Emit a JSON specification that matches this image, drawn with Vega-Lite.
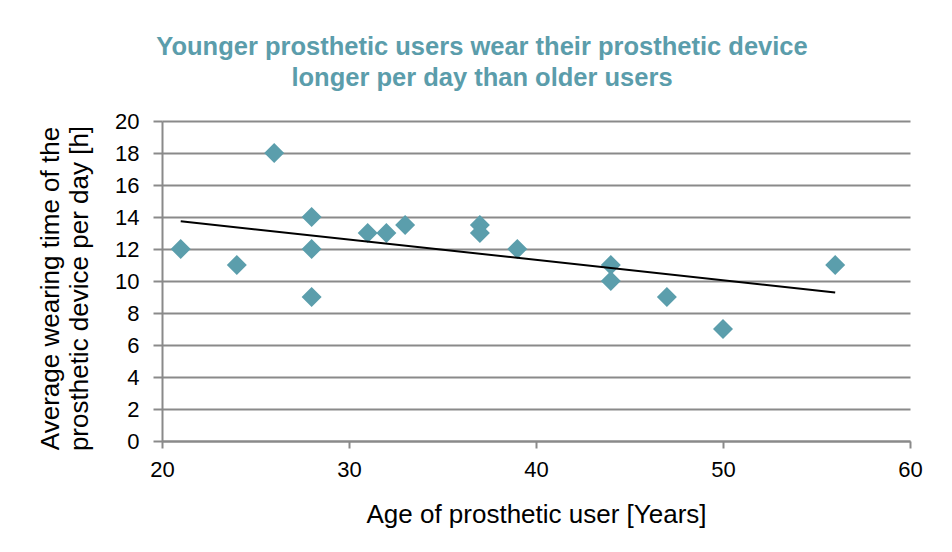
{
  "$schema": "https://vega.github.io/schema/vega-lite/v6.json",
  "width": 748,
  "height": 320,
  "autosize": {"type": "none"},
  "padding": {"left": 162, "top": 121, "right": 42, "bottom": 111},
  "background": "white",
  "title": {
    "text": ["Younger prosthetic users wear their prosthetic device", "longer per day than older users"],
    "font": "Liberation Sans",
    "fontSize": 25.5,
    "fontWeight": "bold",
    "color": "#5b9dab",
    "lineHeight": 31,
    "anchor": "middle",
    "frame": "group",
    "dx": -54,
    "offset": 19
  },
  "data": {
    "values": [
      {"age": 21, "wear": 12},
      {"age": 24, "wear": 11},
      {"age": 26, "wear": 18},
      {"age": 28, "wear": 14},
      {"age": 28, "wear": 12},
      {"age": 28, "wear": 9},
      {"age": 31, "wear": 13},
      {"age": 32, "wear": 13},
      {"age": 33, "wear": 13.5},
      {"age": 37, "wear": 13.5},
      {"age": 37, "wear": 13},
      {"age": 39, "wear": 12},
      {"age": 44, "wear": 11},
      {"age": 44, "wear": 10},
      {"age": 47, "wear": 9},
      {"age": 50, "wear": 7},
      {"age": 56, "wear": 11}
    ]
  },
  "config": {
    "view": {"stroke": null},
    "axis": {
      "labelFont": "Liberation Sans",
      "labelFontSize": 22,
      "labelColor": "#000000",
      "titleFont": "Liberation Sans",
      "titleFontSize": 26,
      "titleFontWeight": "normal",
      "titleColor": "#000000",
      "domainColor": "#8a8a8a",
      "domainWidth": 2,
      "tickColor": "#8a8a8a",
      "tickWidth": 2,
      "gridColor": "#8a8a8a",
      "gridWidth": 2,
      "gridOpacity": 1
    }
  },
  "encoding": {
    "x": {
      "field": "age",
      "type": "quantitative",
      "scale": {"domain": [20, 60], "nice": false, "zero": false},
      "axis": {
        "title": "Age of prosthetic user [Years]",
        "values": [20, 30, 40, 50, 60],
        "grid": false,
        "tickSize": 7,
        "labelPadding": 11,
        "titlePadding": 21,
        "labelFlush": false
      }
    },
    "y": {
      "field": "wear",
      "type": "quantitative",
      "scale": {"domain": [0, 20], "nice": false},
      "axis": {
        "title": ["Average wearing time of the", "prosthetic device per day  [h]"],
        "values": [0, 2, 4, 6, 8, 10, 12, 14, 16, 18, 20],
        "grid": true,
        "tickSize": 9,
        "labelPadding": 14,
        "titlePadding": 22,
        "titleLineHeight": 29,
        "titleY": 167,
        "labelFlush": false
      }
    }
  },
  "layer": [
    {
      "mark": {"type": "point", "shape": "diamond", "filled": true, "size": 400, "color": "#5b9eac", "opacity": 1}
    },
    {
      "transform": [{"regression": "wear", "on": "age", "method": "linear"}],
      "mark": {"type": "line", "color": "#000000", "strokeWidth": 2},
      "encoding": {}
    }
  ]
}
